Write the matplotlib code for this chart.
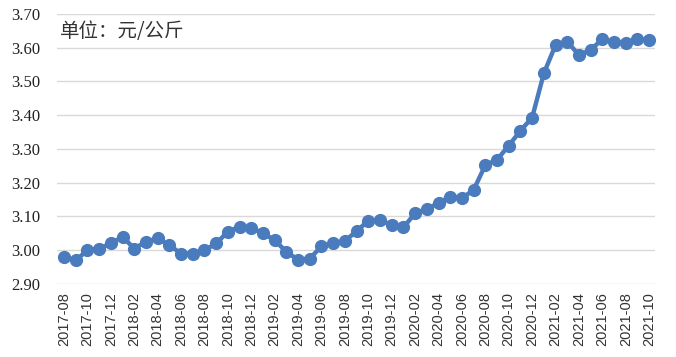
import numpy as np
import pandas as pd
import matplotlib
matplotlib.use("Agg")
import matplotlib.pyplot as plt

# monthly price, 2017-08 .. 2021-10 (yuan/kg)
months = pd.period_range("2017-08", "2021-10", freq="M").strftime("%Y-%m").tolist()
prices = [
    2.98, 2.97, 3.00, 3.005, 3.02, 3.04, 3.005, 3.025, 3.035, 3.015,
    2.99, 2.99, 3.00, 3.02, 3.055, 3.07, 3.066, 3.05, 3.03, 2.995,
    2.972, 2.975, 3.012, 3.02, 3.028, 3.056, 3.088, 3.089, 3.075, 3.068,
    3.109, 3.122, 3.14, 3.159, 3.154, 3.179, 3.252, 3.268, 3.31, 3.354,
    3.393, 3.524, 3.608, 3.618, 3.578, 3.594, 3.625, 3.617, 3.613, 3.625,
    3.623,
]
y_ticks = [2.90, 3.00, 3.10, 3.20, 3.30, 3.40, 3.50, 3.60, 3.70]
unit_label = "单位：元/公斤"

fig = plt.figure(figsize=(6.76, 3.57), dpi=100)
ax = fig.add_axes([0.0843, 0.2045, 0.8847, 0.7565])

x = np.arange(len(months))
line_color = "#4A7BBD"
ax.plot(x, prices, color=line_color, lw=3.2, marker="o", ms=8.5,
        mfc=line_color, mec=line_color, zorder=3)

ax.set_ylim(2.90, 3.70)
ax.set_yticks(y_ticks)
ax.set_yticklabels([f"{v:.2f}" for v in y_ticks], family="Liberation Serif",
                   fontsize=12, color="#222222")
ax.set_xlim(-0.6, len(months) - 0.5)
ax.set_xticks(x[::2])
ax.set_xticklabels(months[::2], rotation=90, family="Liberation Sans",
                   fontsize=10.5, color="#333333")
ax.tick_params(axis="both", length=0)
ax.tick_params(axis="x", pad=6)
ax.tick_params(axis="y", pad=12)

ax.grid(axis="y", color="#D9D9D9", lw=1)
ax.set_axisbelow(True)
for s in ax.spines.values():
    s.set_visible(False)

ax.text(0.005, 0.935, unit_label, transform=ax.transAxes, fontsize=14,
        family=["Noto Sans CJK SC", "DejaVu Sans"], color="#333333",
        va="center", ha="left")

fig.savefig("out.png", dpi=100)
